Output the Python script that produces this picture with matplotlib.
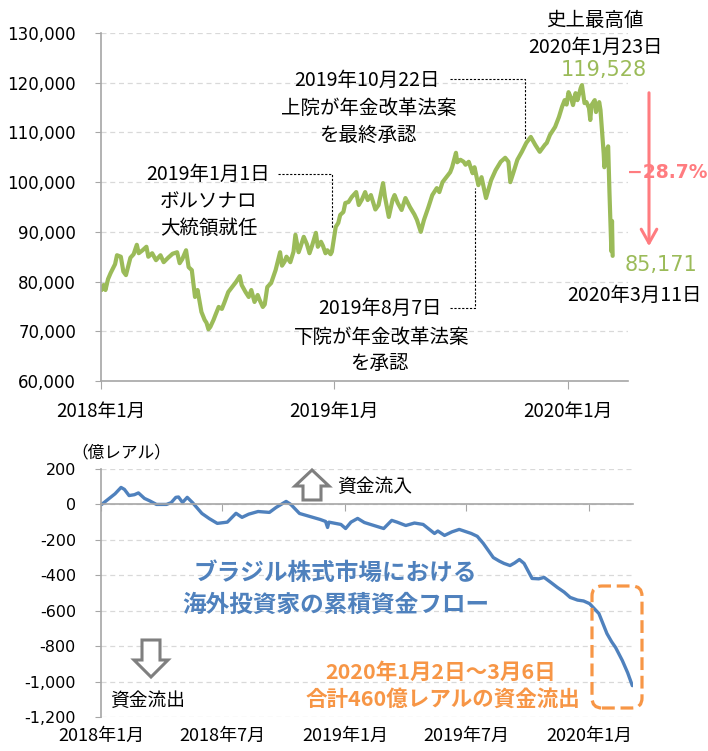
import matplotlib
matplotlib.use('Agg')
import matplotlib.pyplot as plt
import matplotlib.ticker as mticker
from matplotlib.patches import Polygon, FancyBboxPatch, FancyArrowPatch
from matplotlib.lines import Line2D
import pandas as pd

JP = ['Noto Sans CJK JP', 'DejaVu Sans']
NUM = ['DejaVu Sans', 'Noto Sans CJK JP']
plt.rcParams['font.family'] = JP
plt.rcParams['axes.unicode_minus'] = False

# ---------------- data ----------------
ibov_dates = [
    '2018-01-02', '2018-01-05', '2018-01-08', '2018-01-12', '2018-01-16', '2018-01-23', '2018-01-26',
    '2018-02-01', '2018-02-05', '2018-02-09', '2018-02-16', '2018-02-21', '2018-02-26',
    '2018-03-01', '2018-03-07', '2018-03-13', '2018-03-16', '2018-03-22', '2018-03-28',
    '2018-04-04', '2018-04-09', '2018-04-16', '2018-04-23', '2018-04-30',
    '2018-05-04', '2018-05-08', '2018-05-14', '2018-05-18', '2018-05-23', '2018-05-28',
    '2018-06-01', '2018-06-07', '2018-06-12', '2018-06-15', '2018-06-18', '2018-06-21', '2018-06-26', '2018-06-29',
    '2018-07-04', '2018-07-09', '2018-07-13', '2018-07-19', '2018-07-25', '2018-07-31',
    '2018-08-06', '2018-08-09', '2018-08-15', '2018-08-20', '2018-08-24', '2018-08-29',
    '2018-09-03', '2018-09-06', '2018-09-11', '2018-09-14', '2018-09-18', '2018-09-24',
    '2018-10-01', '2018-10-08', '2018-10-11', '2018-10-15', '2018-10-18', '2018-10-24', '2018-10-29',
    '2018-11-01', '2018-11-06', '2018-11-09', '2018-11-14', '2018-11-19', '2018-11-23', '2018-11-27',
    '2018-12-03', '2018-12-06', '2018-12-11', '2018-12-14', '2018-12-18', '2018-12-21', '2018-12-26', '2018-12-28',
    '2019-01-03', '2019-01-07', '2019-01-10', '2019-01-15', '2019-01-18', '2019-01-23', '2019-01-28',
    '2019-02-04', '2019-02-08', '2019-02-13', '2019-02-18', '2019-02-22', '2019-02-27',
    '2019-03-06', '2019-03-11', '2019-03-18', '2019-03-21', '2019-03-27',
    '2019-04-02', '2019-04-05', '2019-04-10', '2019-04-16', '2019-04-22', '2019-04-29',
    '2019-05-06', '2019-05-10', '2019-05-16', '2019-05-21', '2019-05-28',
    '2019-06-03', '2019-06-10', '2019-06-14', '2019-06-19', '2019-06-25',
    '2019-07-01', '2019-07-04', '2019-07-10', '2019-07-12', '2019-07-17', '2019-07-22', '2019-07-25', '2019-07-30',
    '2019-08-05', '2019-08-08', '2019-08-14', '2019-08-19', '2019-08-26',
    '2019-09-03', '2019-09-10', '2019-09-18', '2019-09-25', '2019-09-30',
    '2019-10-03', '2019-10-08', '2019-10-14', '2019-10-21', '2019-10-28',
    '2019-11-04', '2019-11-11', '2019-11-18', '2019-11-26', '2019-11-29',
    '2019-12-04', '2019-12-12', '2019-12-18', '2019-12-23', '2019-12-27', '2019-12-30',
    '2020-01-02', '2020-01-06', '2020-01-09', '2020-01-13', '2020-01-16', '2020-01-21', '2020-01-23',
    '2020-01-27', '2020-01-30', '2020-02-03', '2020-02-05', '2020-02-07', '2020-02-12', '2020-02-14',
    '2020-02-19', '2020-02-21', '2020-02-26', '2020-02-27', '2020-03-02', '2020-03-04', '2020-03-05',
    '2020-03-06', '2020-03-09', '2020-03-10', '2020-03-11',
]
ibov_values = [
    78300, 79300, 78300, 80500, 81700, 83500, 85300,
    85000, 82000, 81300, 84800, 85500, 87400,
    85700, 86300, 87000, 85000, 85700, 84300,
    85300, 83900, 84800, 85600, 85900,
    83700, 84500, 86300, 82900, 82300, 76900,
    78300, 73900, 72300, 71700, 70400, 70900, 72300, 73300,
    74900, 74500, 75800, 77900, 78900, 79900,
    81100, 79300, 77900, 76900, 78300, 75900,
    77300, 76300, 74900, 75400, 78900, 79700,
    82300, 85900, 83200, 84000, 85000, 83900, 86000,
    89400, 85900, 87000, 89000, 87500, 85700, 87200,
    89800, 87000, 88000, 87200, 85700, 86300, 85500, 86000,
    91000, 91800, 93400, 94000, 95800, 96000, 97000,
    98000, 95400, 96500, 98000, 96400, 97400,
    94500, 95400, 99800, 97000, 93000,
    96500, 97400, 95800, 94400, 96800, 95000,
    93500, 92400, 90000, 92400, 95000,
    97400, 98800, 98000, 100000, 101000,
    102000, 103000, 105900, 104000, 104500, 104100, 103500, 104100,
    101800, 103000, 99400, 101000, 96800,
    100400, 102400, 104100, 104900, 104100,
    100000, 102000, 104500, 106100, 107900,
    109100, 107500, 106100, 107500, 107900,
    109500, 111100, 113100, 115200, 116500, 115600,
    118100, 116900, 115500, 117900, 116500, 118900, 119528,
    115900, 116100, 114900, 112500, 115500, 116500, 114100,
    116100, 114500, 105700, 103000, 106600, 107200, 102200,
    98000, 86100, 92200, 85171,
]

flow_dates = [
    '2018-01-02', '2018-01-12', '2018-01-22', '2018-01-31', '2018-02-05', '2018-02-12', '2018-02-20',
    '2018-02-26', '2018-03-07', '2018-03-15', '2018-03-25', '2018-04-09', '2018-04-16', '2018-04-23',
    '2018-04-27', '2018-05-03', '2018-05-10', '2018-05-18', '2018-06-01', '2018-06-12', '2018-06-24',
    '2018-07-09', '2018-07-22', '2018-07-31', '2018-08-10', '2018-08-24', '2018-09-10', '2018-09-20',
    '2018-10-05', '2018-10-12', '2018-10-25', '2018-11-14', '2018-11-25', '2018-12-03', '2018-12-06',
    '2018-12-08', '2018-12-26', '2019-01-02', '2019-01-10', '2019-01-20', '2019-01-30', '2019-02-10',
    '2019-02-28', '2019-03-12', '2019-03-20', '2019-04-02', '2019-04-15', '2019-04-28', '2019-05-15',
    '2019-05-20', '2019-05-30', '2019-06-10', '2019-06-21', '2019-07-09', '2019-07-18', '2019-07-27',
    '2019-08-11', '2019-08-20', '2019-08-27', '2019-09-05', '2019-09-12', '2019-09-19', '2019-09-26',
    '2019-10-08', '2019-10-18', '2019-10-26', '2019-11-05', '2019-11-15', '2019-11-25', '2019-12-04',
    '2019-12-15', '2019-12-24', '2020-01-02', '2020-01-16', '2020-01-28', '2020-02-04', '2020-02-10',
    '2020-02-20', '2020-02-28', '2020-03-06',
]
flow_values = [
    0, 30, 60, 96, 85, 50, 55,
    65, 34, 20, 0, 0, 10, 40,
    42, 11, 40, 10, -51, -80, -107,
    -100, -50, -73, -55, -40, -45, -17,
    17, 0, -51, -73, -85, -96, -130,
    -100, -113, -136, -100, -79, -102, -115,
    -136, -90, -100, -119, -105, -113, -164,
    -150, -175, -155, -141, -164, -180, -220,
    -300, -320, -333, -345, -330, -311, -333,
    -418, -420, -412, -440, -469, -495, -525,
    -540, -545, -560, -616, -729, -775, -808,
    -881, -950, -1023,
]

top_ticks = ['2018-01-01', '2019-01-01', '2020-01-01']
top_tick_labels = ['2018年1月', '2019年1月', '2020年1月']
bottom_ticks = ['2018-01-01', '2018-07-01', '2019-01-01', '2019-07-01', '2020-01-01']
bottom_tick_labels = ['2018年1月', '2018年7月', '2019年1月', '2019年7月', '2020年1月']

GREEN = '#9BBB59'
BLUE = '#4F81BD'
ORANGE = '#F79646'
PINK = '#FF7C80'
GRID = '#D9D9D9'
SPINE = '#A6A6A6'

W, H = 708, 751
fig = plt.figure(figsize=(W / 100, H / 100), dpi=100)


def fx(x):
    return x / W


def fy(y):
    return 1 - y / H


# ---------------- top chart ----------------
ax1 = fig.add_axes([fx(101), fy(381), fx(628) - fx(101), fy(33) - fy(381)])
ax1.plot(pd.to_datetime(ibov_dates), ibov_values, color=GREEN, lw=3.0,
         solid_joinstyle='round', solid_capstyle='round')
ax1.set_xlim(pd.Timestamp('2018-01-01'), pd.Timestamp('2020-04-04'))
ax1.set_ylim(60000, 130000)
ax1.set_yticks(range(60000, 130001, 10000))
ax1.yaxis.set_major_formatter(mticker.FuncFormatter(lambda v, p: f'{v:,.0f}'))
ax1.set_xticks(pd.to_datetime(top_ticks))
ax1.set_xticklabels(top_tick_labels, fontsize=13.5)
for t in ax1.get_yticklabels():
    t.set_family(NUM)
    t.set_fontsize(12)
ax1.yaxis.grid(True, color=GRID, ls=(0, (4, 3)), lw=0.9)
ax1.set_axisbelow(True)
for s in ['top', 'right']:
    ax1.spines[s].set_visible(False)
for s in ['left', 'bottom']:
    ax1.spines[s].set_color(SPINE)
    ax1.spines[s].set_linewidth(1.2)
ax1.tick_params(axis='y', length=4, color=SPINE, pad=14)
ax1.tick_params(axis='x', length=6, color=SPINE, pad=8)

# ---------------- bottom chart ----------------
ax2 = fig.add_axes([fx(101), fy(717), fx(633) - fx(101), fy(469) - fy(717)])
ax2.plot(pd.to_datetime(flow_dates), flow_values, color=BLUE, lw=2.4,
         solid_joinstyle='round', solid_capstyle='round')
ax2.set_xlim(pd.Timestamp('2018-01-01'), pd.Timestamp('2020-03-07'))
ax2.set_ylim(-1200, 200)
ax2.set_yticks(range(-1200, 201, 200))
ax2.yaxis.set_major_formatter(mticker.FuncFormatter(lambda v, p: f'{v:,.0f}'))
for t in ax2.get_yticklabels():
    t.set_family(NUM)
    t.set_fontsize(11.5)
ax2.yaxis.grid(True, color=GRID, ls=(0, (4, 3)), lw=0.9)
ax2.set_axisbelow(True)
for s in ['top', 'right']:
    ax2.spines[s].set_visible(False)
ax2.spines['left'].set_color(SPINE)
ax2.spines['left'].set_linewidth(1.2)
ax2.spines['bottom'].set_position(('data', 0))
ax2.spines['bottom'].set_color(SPINE)
ax2.spines['bottom'].set_linewidth(1.2)
ax2.set_xticks(pd.to_datetime(bottom_ticks))
ax2.tick_params(axis='x', length=5, color=SPINE, labelbottom=False)
ax2.tick_params(axis='y', length=4, color=SPINE, pad=14)
sec = ax2.secondary_xaxis(0)
sec.set_xticks(pd.to_datetime(bottom_ticks))
sec.set_xticklabels(bottom_tick_labels)
sec.tick_params(length=0, labelsize=13, pad=7)
sec.spines['bottom'].set_visible(False)


# ---------------- annotations (top) ----------------
def ftext(x, y, s, **kw):
    kw.setdefault('ha', 'center')
    kw.setdefault('va', 'center')
    kw.setdefault('fontsize', 14)
    kw.setdefault('color', 'black')
    fig.text(fx(x), fy(y), s, **kw)


def leader(xs, ys):
    fig.add_artist(Line2D([fx(v) for v in xs], [fy(v) for v in ys], transform=fig.transFigure,
                          color='black', lw=0.8, ls=(0, (2, 1.5))))


ftext(208, 174, '2019年1月1日')
ftext(209, 201, 'ボルソナロ')
ftext(209, 228, '大統領就任')
leader([278, 332, 332], [174, 174, 228])

ftext(367, 80, '2019年10月22日')
ftext(369, 108, '上院が年金改革法案')
ftext(368, 135, 'を最終承認')
leader([450, 525, 525], [79, 79, 140])

ftext(380, 308, '2019年8月7日')
ftext(382, 337, '下院が年金改革法案')
ftext(379, 363, 'を承認')
leader([450, 475, 475], [308, 308, 188])

ftext(595, 21, '史上最高値')
ftext(595, 47, '2020年1月23日')
ftext(604, 70, '119,528', color=GREEN, fontsize=15, family=NUM)
ftext(667, 172, '−28.7%', color=PINK, fontsize=13.5, fontweight='bold', family=NUM)
fig.add_artist(FancyArrowPatch((fx(649), fy(90)), (fx(649), fy(249)), transform=fig.transFigure,
                               arrowstyle='->,head_length=0.5,head_width=0.28', mutation_scale=20,
                               color=PINK, lw=2.2))
ftext(661, 265, '85,171', color=GREEN, fontsize=15, family=NUM)
ftext(634, 295, '2020年3月11日')

# ---------------- annotations (bottom) ----------------
ftext(121, 453, '（億レアル）', fontsize=12)
ftext(375, 486, '資金流入', fontsize=13.5)
ftext(148, 700, '資金流出', fontsize=13.5)

up = [(312, 470), (329, 486), (321, 486), (321, 500), (303, 500), (303, 486), (295, 486)]
down = [(142, 640), (160, 640), (160, 660), (168, 660), (151, 677), (134, 660), (142, 660)]
for pts in (up, down):
    fig.add_artist(Polygon([(fx(a), fy(b)) for a, b in pts], closed=True, transform=fig.transFigure,
                           facecolor='white', edgecolor='#7F7F7F', lw=2.2, joinstyle='miter'))

ftext(335, 573, 'ブラジル株式市場における', color=BLUE, fontsize=17, fontweight='bold')
ftext(336, 605, '海外投資家の累積資金フロー', color=BLUE, fontsize=17, fontweight='bold')
ftext(441, 672, '2020年1月2日～3月6日', color=ORANGE, fontsize=15.5, fontweight='bold')
ftext(443, 699, '合計460億レアルの資金流出', color=ORANGE, fontsize=15.5, fontweight='bold')

box = FancyBboxPatch((592 / 100, (H - 708) / 100), 50 / 100, 122 / 100,
                     boxstyle='round,pad=0,rounding_size=0.1', transform=fig.dpi_scale_trans,
                     facecolor='none', edgecolor=ORANGE, lw=2.3, ls=(0, (4, 1.8)))
fig.add_artist(box)

fig.savefig('out.png', dpi=100)
